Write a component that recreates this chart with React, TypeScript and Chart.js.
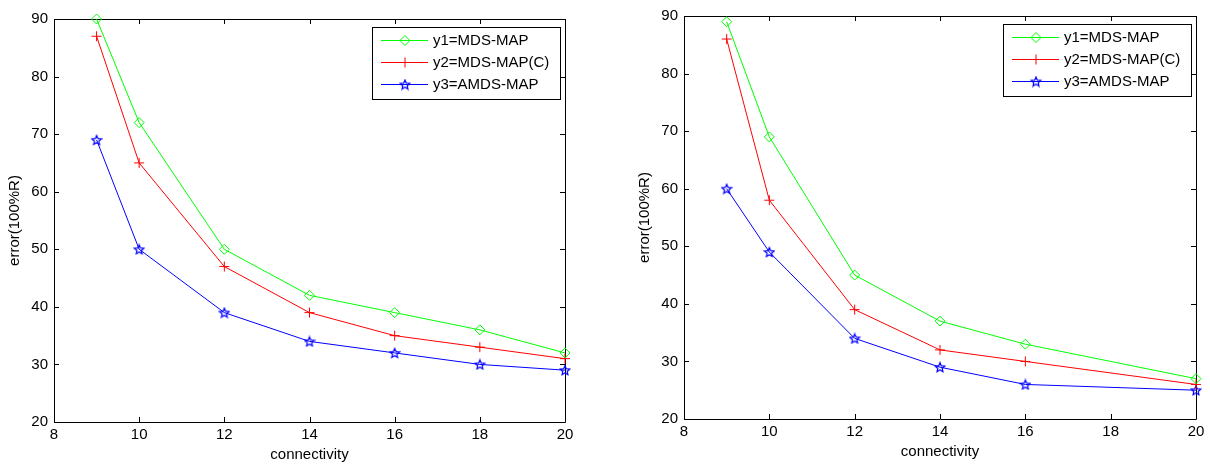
import React, { useEffect, useRef } from "react";
import { Chart, registerables } from "chart.js";

Chart.register(...registerables);

// ---------- data ----------
const leftConnectivity = [9, 10, 12, 14, 16, 18, 20];
const leftMdsMap = [90, 72, 50, 42, 39, 36, 32];
const leftMdsMapC = [87, 65, 47, 39, 35, 33, 31];
const leftAmdsMap = [69, 50, 39, 34, 32, 30, 29];

const rightConnectivity = [9, 10, 12, 14, 16, 20];
const rightMdsMap = [89, 69, 45, 37, 33, 27];
const rightMdsMapC = [86, 58, 39, 32, 30, 26];
const rightAmdsMap = [60, 49, 34, 29, 26, 25];

const seriesLabels = ["y1=MDS-MAP", "y2=MDS-MAP(C)", "y3=AMDS-MAP"];
const seriesColors = ["#00ff00", "#ff0000", "#0000ff"];
const xTicks = [8, 10, 12, 14, 16, 18, 20];
const yTicks = [20, 30, 40, 50, 60, 70, 80, 90];
const xTitle = "connectivity";
const yTitle = "error(100%R)";

const FONT = "'Liberation Sans', Arial, Helvetica, sans-serif";
const FS = 15;

function makeStar(color: string): HTMLCanvasElement {
  const c = document.createElement("canvas");
  c.width = 12;
  c.height = 12;
  const ctx = c.getContext("2d")!;
  ctx.strokeStyle = color;
  ctx.lineWidth = 1.2;
  ctx.beginPath();
  for (let i = 0; i < 10; i++) {
    const r = i % 2 === 0 ? 5 : 2.3;
    const a = -Math.PI / 2 + (i * Math.PI) / 5;
    const x = 6 + r * Math.cos(a);
    const y = 6.5 + r * Math.sin(a);
    if (i === 0) ctx.moveTo(x, y);
    else ctx.lineTo(x, y);
  }
  ctx.closePath();
  ctx.stroke();
  return c;
}

function drawMarker(ctx: CanvasRenderingContext2D, kind: number, x: number, y: number, color: string, star: HTMLCanvasElement) {
  ctx.save();
  ctx.strokeStyle = color;
  ctx.lineWidth = 1;
  if (kind === 0) {
    const r = 5;
    ctx.beginPath();
    ctx.moveTo(x, y - r);
    ctx.lineTo(x + r, y);
    ctx.lineTo(x, y + r);
    ctx.lineTo(x - r, y);
    ctx.closePath();
    ctx.stroke();
  } else if (kind === 1) {
    const r = 5;
    ctx.beginPath();
    ctx.moveTo(x - r, y);
    ctx.lineTo(x + r, y);
    ctx.moveTo(x, y - r);
    ctx.lineTo(x, y + r);
    ctx.stroke();
  } else {
    ctx.drawImage(star, x - star.width / 2, y - star.height / 2);
  }
  ctx.restore();
}

type PanelProps = {
  left: number;
  width: number;
  padTop: number;
  padRight: number;
  padBottom: number;
  xs: number[];
  ys: number[][];
};

function Panel({ left, width, padTop, padRight, padBottom, xs, ys }: PanelProps) {
  const ref = useRef<HTMLCanvasElement | null>(null);
  useEffect(() => {
    const canvas = ref.current!;
    const star = makeStar(seriesColors[2]);

    const framePlugin = {
      id: "frame",
      beforeDatasetsDraw(chart: any) {
        const { ctx, chartArea } = chart;
        const { left: l, right: r, top: t, bottom: b } = chartArea;
        ctx.save();
        ctx.strokeStyle = "#000";
        ctx.lineWidth = 1;
        ctx.beginPath();
        ctx.rect(Math.round(l) + 0.5, Math.round(t) + 0.5, Math.round(r - l), Math.round(b - t));
        ctx.stroke();
        const tl = 5;
        ctx.beginPath();
        xTicks.forEach((v) => {
          const px = Math.round(chart.scales.x.getPixelForValue(v)) + 0.5;
          ctx.moveTo(px, b);
          ctx.lineTo(px, b - tl);
          ctx.moveTo(px, t);
          ctx.lineTo(px, t + tl);
        });
        yTicks.forEach((v) => {
          const py = Math.round(chart.scales.y.getPixelForValue(v)) + 0.5;
          ctx.moveTo(l, py);
          ctx.lineTo(l + tl, py);
          ctx.moveTo(r, py);
          ctx.lineTo(r - tl, py);
        });
        ctx.stroke();
        ctx.restore();
      },
    };

    const legendPlugin = {
      id: "boxLegend",
      afterDraw(chart: any) {
        const { ctx, chartArea } = chart;
        const bw = 188;
        const bh = 72;
        const bx = Math.round(chartArea.right) - 5 - bw;
        const by = Math.round(chartArea.top) + 8;
        ctx.save();
        ctx.fillStyle = "#fff";
        ctx.fillRect(bx, by, bw, bh);
        ctx.strokeStyle = "#000";
        ctx.lineWidth = 1;
        ctx.strokeRect(bx + 0.5, by + 0.5, bw, bh);
        ctx.font = `${FS}px ${FONT}`;
        ctx.textBaseline = "middle";
        ctx.textAlign = "left";
        seriesLabels.forEach((lab, i) => {
          const cy = by + 13 + i * 22;
          ctx.strokeStyle = seriesColors[i];
          ctx.lineWidth = 1;
          ctx.beginPath();
          ctx.moveTo(bx + 9, cy + 0.5);
          ctx.lineTo(bx + 56, cy + 0.5);
          ctx.stroke();
          drawMarker(ctx, i, bx + 33, cy + 0.5, seriesColors[i], star);
          ctx.fillStyle = "#000";
          ctx.fillText(lab, bx + 61, cy + 1);
        });
        ctx.restore();
      },
    };

    const styles: any[] = ["rectRot", "cross", star];
    const chart = new Chart(canvas, {
      type: "line",
      data: {
        datasets: ys.map((arr, i) => ({
          label: seriesLabels[i],
          data: xs.map((x, j) => ({ x, y: arr[j] })),
          borderColor: seriesColors[i],
          backgroundColor: "transparent",
          borderWidth: 1,
          pointStyle: styles[i],
          pointRadius: 5,
          pointBorderWidth: 1,
          pointBorderColor: seriesColors[i],
          pointBackgroundColor: "transparent",
          tension: 0,
          clip: false as any,
        })),
      },
      options: {
        responsive: false,
        animation: false,
        events: [],
        layout: { padding: { left: 0, right: padRight, top: padTop, bottom: padBottom } },
        plugins: { legend: { display: false }, tooltip: { enabled: false } },
        scales: {
          x: {
            type: "linear",
            min: 8,
            max: 20,
            afterBuildTicks: (s: any) => {
              s.ticks = xTicks.map((v) => ({ value: v }));
            },
            afterFit: (s: any) => {
              s.height = 42;
            },
            grid: { display: false, drawTicks: false },
            border: { display: false },
            ticks: {
              padding: 4,
              color: "#000",
              autoSkip: false,
              maxRotation: 0,
              font: { family: FONT, size: FS },
            },
            title: {
              display: true,
              text: xTitle,
              color: "#000",
              font: { family: FONT, size: FS },
              padding: { top: 0, bottom: 0 },
            },
          },
          y: {
            type: "linear",
            min: 20,
            max: 90,
            afterBuildTicks: (s: any) => {
              s.ticks = yTicks.map((v) => ({ value: v }));
            },
            afterFit: (s: any) => {
              s.width = 54;
            },
            grid: { display: false, drawTicks: false },
            border: { display: false },
            ticks: {
              padding: 6,
              color: "#000",
              autoSkip: false,
              font: { family: FONT, size: FS },
            },
            title: {
              display: true,
              text: yTitle,
              color: "#000",
              font: { family: FONT, size: FS },
              padding: { top: 6, bottom: 0 },
            },
          },
        },
      } as any,
      plugins: [framePlugin, legendPlugin],
    });
    return () => chart.destroy();
  }, []);

  return (
    <canvas
      ref={ref}
      width={width}
      height={464}
      style={{ position: "absolute", left, top: 0, width, height: 464 }}
    />
  );
}

export default function App() {
  return (
    <div style={{ position: "fixed", left: 0, top: 0, width: 1210, height: 464, background: "#fff" }}>
      <Panel
        left={0}
        width={605}
        padTop={19}
        padRight={40}
        padBottom={0}
        xs={leftConnectivity}
        ys={[leftMdsMap, leftMdsMapC, leftAmdsMap]}
      />
      <Panel
        left={630}
        width={580}
        padTop={16}
        padRight={14}
        padBottom={3}
        xs={rightConnectivity}
        ys={[rightMdsMap, rightMdsMapC, rightAmdsMap]}
      />
    </div>
  );
}
